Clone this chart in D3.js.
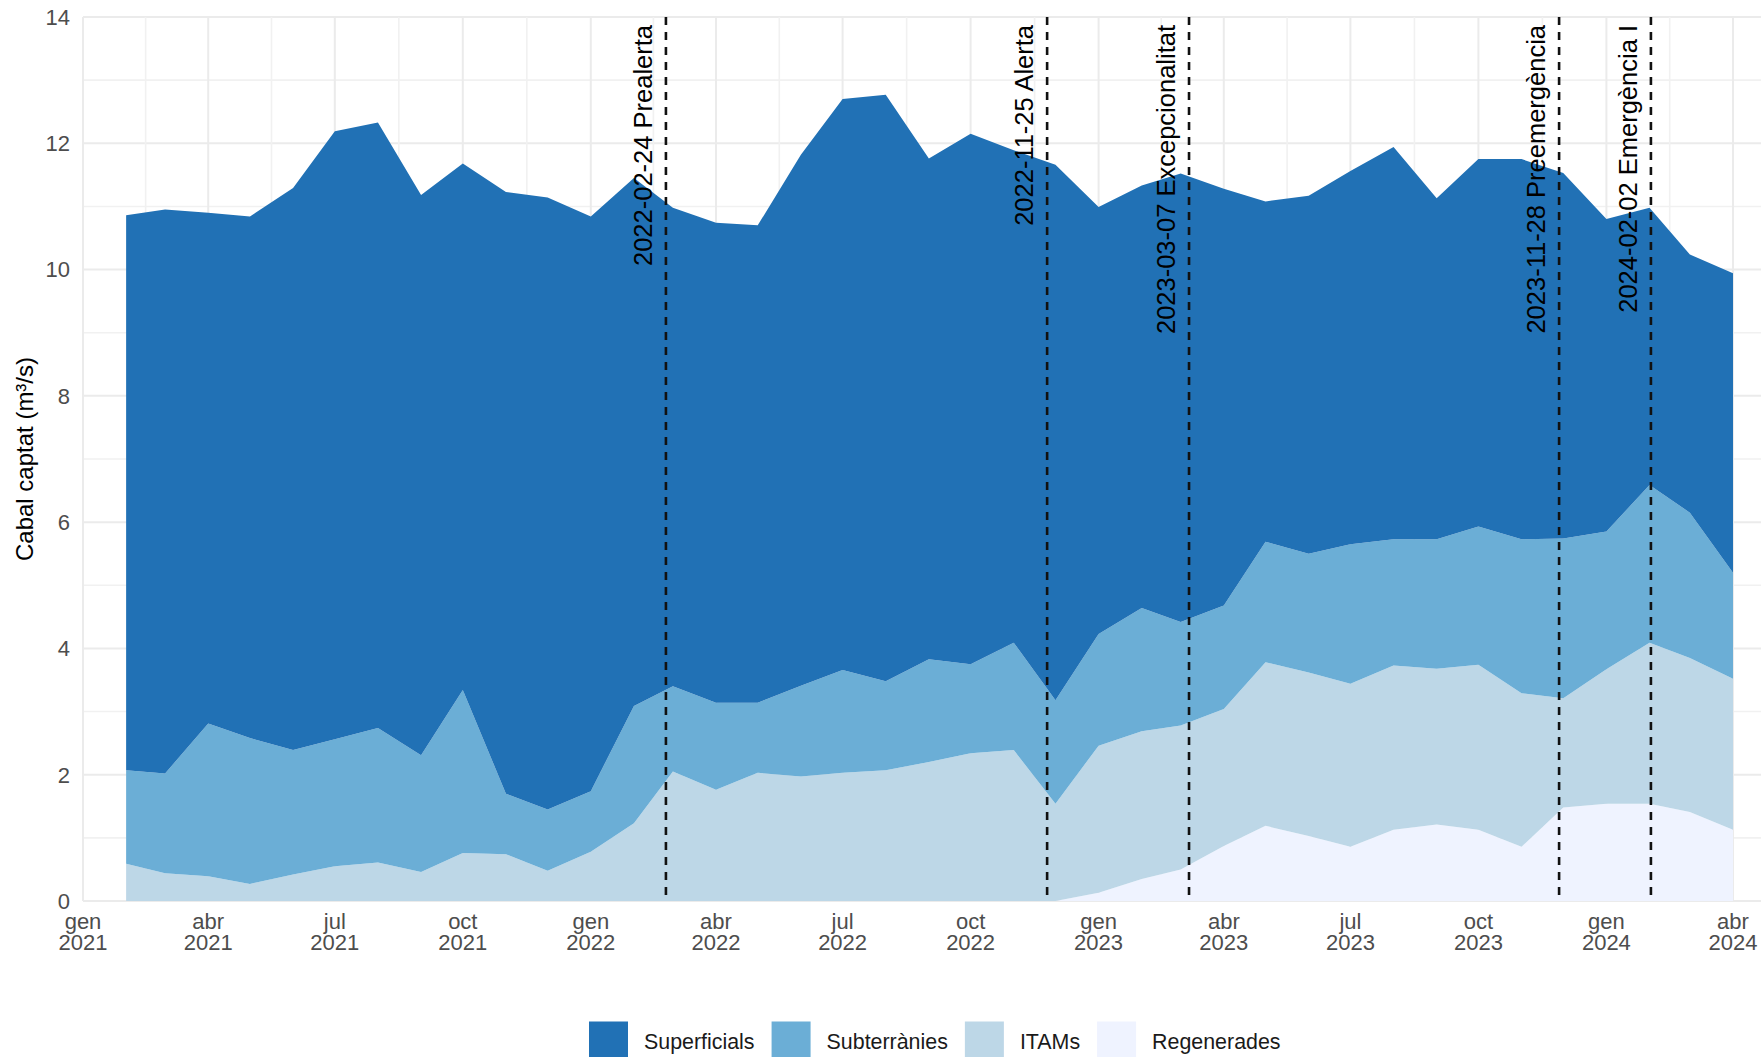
<!DOCTYPE html>
<html>
<head>
<meta charset="utf-8">
<script src="https://cdn.jsdelivr.net/npm/d3@7/dist/d3.min.js"></script>
<style>
  body { margin: 0; background: #fff; }
  text { font-family: "Liberation Sans", Arial, sans-serif; }
</style>
</head>
<body>
<div id="chart-area"></div>
<script>
//============================DATA============================
// monthly values, Feb 2021 .. Apr 2024 (m3/s)
var months = ["2021-02","2021-03","2021-04","2021-05","2021-06","2021-07","2021-08","2021-09","2021-10","2021-11","2021-12",
    "2022-01","2022-02","2022-03","2022-04","2022-05","2022-06","2022-07","2022-08","2022-09","2022-10","2022-11","2022-12",
    "2023-01","2023-02","2023-03","2023-04","2023-05","2023-06","2023-07","2023-08","2023-09","2023-10","2023-11","2023-12",
    "2024-01","2024-02","2024-03","2024-04"];

var superficials = [8.79,8.93,8.09,8.26,8.90,9.63,9.59,8.87,8.34,9.53,9.69,
    9.10,8.36,7.58,7.60,7.56,8.41,9.04,9.29,7.93,8.40,7.80,8.48,
    6.76,6.69,7.10,6.60,5.39,5.67,5.91,6.21,5.40,5.82,6.02,5.79,
    4.95,4.39,4.09,4.74];
var subterranies = [1.48,1.58,2.42,2.31,1.97,2.01,2.13,1.85,2.58,0.96,0.97,
    0.96,1.86,1.35,1.38,1.11,1.44,1.63,1.41,1.63,1.41,1.70,1.64,
    1.77,1.95,1.64,1.64,1.91,1.88,2.21,2.00,2.05,2.19,2.44,2.53,
    2.18,2.50,2.30,1.68];
var itams = [0.59,0.44,0.39,0.27,0.42,0.55,0.61,0.46,0.76,0.74,0.48,
    0.78,1.23,2.05,1.76,2.03,1.97,2.03,2.07,2.20,2.34,2.39,1.54,
    2.33,2.34,2.28,2.17,2.59,2.59,2.58,2.60,2.47,2.61,2.43,1.73,
    2.13,2.55,2.44,2.39];
var regenerades = [0,0,0,0,0,0,0,0,0,0,0,
    0,0,0,0,0,0,0,0,0,0,0,0,
    0.13,0.35,0.50,0.87,1.19,1.03,0.86,1.13,1.21,1.13,0.86,1.48,
    1.54,1.54,1.41,1.13];

// series, bottom to top
var seriesNames = ["Regenerades", "ITAMs", "Subterrànies", "Superficials"];
var seriesColors = ["#eff3ff", "#bdd7e7", "#6baed6", "#2171b5"];
// legend order
var legendNames = ["Superficials", "Subterrànies", "ITAMs", "Regenerades"];

// drought stage dates
var stageDates = ["2022-02-24", "2022-11-25", "2023-03-07", "2023-11-28", "2024-02-02"];
var stageNames = ["Prealerta", "Alerta", "Excepcionalitat", "Preemergència", "Emergència I"];

var monthNames = ["gen","feb","mar","abr","mai","jun","jul","ago","set","oct","nov","des"];
var yTicks = [0, 2, 4, 6, 8, 10, 12, 14];

//============================GLOBALS============================
var W = 1761, H = 1057;
var margins = { left: 83, right: 0, top: 17, bottom: 156 };
var width = W - margins.left - margins.right;
var height = H - margins.top - margins.bottom;

var svg = d3.select("#chart-area")
    .append("svg")
    .attr("width", W)
    .attr("height", H);

var g = svg.append("g")
    .attr("transform", "translate(" + margins.left + ", " + margins.top + ")");

var parseDay = d3.utcParse("%Y-%m-%d");
var parseMonth = d3.utcParse("%Y-%m");

// x: gen 2021 sits on the left edge, abr 2024 at 1733px
var x = d3.scaleUtc()
    .domain([parseDay("2021-01-01"), parseDay("2024-04-01")])
    .range([0, 1733 - margins.left]);

var y = d3.scaleLinear()
    .domain([0, 14])
    .range([height, 0]);

//========================GRID=======================
var majorX = d3.utcMonth.every(3).range(parseDay("2021-01-01"), parseDay("2024-04-02"));
var minorX = [];
for (var i = 0; i < majorX.length - 1; i++) {
    minorX.push(new Date((majorX[i].getTime() + majorX[i + 1].getTime()) / 2));
}

var grid = g.append("g").attr("class", "grid");

d3.range(0, 15).forEach(function(v){
    grid.append("line")
        .attr("x1", 0).attr("x2", width)
        .attr("y1", y(v)).attr("y2", y(v))
        .style("stroke", v % 2 === 0 ? "#ebebeb" : "#f1f1f1")
        .style("stroke-width", v % 2 === 0 ? 2 : 1.6);
});

grid.selectAll(".minor-x").data(minorX).enter()
    .append("line")
    .attr("x1", function(d){ return x(d); }).attr("x2", function(d){ return x(d); })
    .attr("y1", 0).attr("y2", height)
    .style("stroke", "#f1f1f1").style("stroke-width", 1.6);

grid.selectAll(".major-x").data(majorX).enter()
    .append("line")
    .attr("x1", function(d){ return x(d); }).attr("x2", function(d){ return x(d); })
    .attr("y1", 0).attr("y2", height)
    .style("stroke", "#ebebeb").style("stroke-width", 2);

//========================STACKED AREAS=======================
var rows = months.map(function(m, i){
    return {
        date: parseMonth(m),
        "Regenerades": regenerades[i],
        "ITAMs": itams[i],
        "Subterrànies": subterranies[i],
        "Superficials": superficials[i]
    };
});

var stack = d3.stack().keys(seriesNames);
var layers = stack(rows);

var area = d3.area()
    .x(function(d){ return x(d.data.date); })
    .y0(function(d){ return y(d[0]); })
    .y1(function(d){ return y(d[1]); });

g.selectAll(".layer").data(layers).enter()
    .append("path")
    .attr("class", "layer")
    .attr("d", area)
    .attr("fill", function(d, i){ return seriesColors[i]; });

//========================STAGE LINES=======================
stageDates.forEach(function(s, i){
    var sx = x(parseDay(s));
    g.append("line")
        .attr("x1", sx).attr("x2", sx)
        .attr("y1", 0).attr("y2", height)
        .style("stroke", "#111")
        .style("stroke-width", 2.6)
        .style("stroke-dasharray", "8,7");
    g.append("text")
        .attr("transform", "translate(" + (sx - 14) + "," + 8 + ") rotate(-90)")
        .attr("text-anchor", "end")
        .attr("font-size", "25.5px")
        .attr("fill", "#000")
        .text(s + " " + stageNames[i]);
});

//========================AXES=======================
// y labels
g.selectAll(".ytick").data(yTicks).enter()
    .append("text")
    .attr("x", -13)
    .attr("y", function(d){ return y(d); })
    .attr("dy", "0.36em")
    .attr("text-anchor", "end")
    .attr("font-size", "22px")
    .attr("fill", "#4d4d4d")
    .text(function(d){ return d; });

// x labels, two lines: month / year
var xl = g.selectAll(".xtick").data(majorX).enter()
    .append("text")
    .attr("text-anchor", "middle")
    .attr("font-size", "22px")
    .attr("fill", "#4d4d4d");
xl.append("tspan")
    .attr("x", function(d){ return x(d); })
    .attr("y", height + 28)
    .text(function(d){ return monthNames[d.getUTCMonth()]; });
xl.append("tspan")
    .attr("x", function(d){ return x(d); })
    .attr("y", height + 49)
    .text(function(d){ return d.getUTCFullYear(); });

// y title
svg.append("text")
    .attr("transform", "translate(33," + (margins.top + height / 2) + ") rotate(-90)")
    .attr("text-anchor", "middle")
    .attr("font-size", "24px")
    .attr("fill", "#000")
    .text("Cabal captat (m³/s)");

//========================LEGEND=======================
var legend = svg.append("g").attr("class", "legend");
var lx = 589, keySize = 39, legendY = 1041;
legendNames.forEach(function(name){
    var c = seriesColors[seriesNames.indexOf(name)];
    legend.append("rect")
        .attr("x", lx).attr("y", legendY - keySize / 2)
        .attr("width", keySize).attr("height", keySize)
        .attr("fill", c);
    var t = legend.append("text")
        .attr("x", lx + keySize + 16)
        .attr("y", legendY)
        .attr("dy", "0.36em")
        .attr("font-size", "21.4px")
        .attr("fill", "#1a1a1a")
        .text(name);
    lx = lx + keySize + 16 + t.node().getComputedTextLength() + 17;
});
</script>
</body>
</html>
